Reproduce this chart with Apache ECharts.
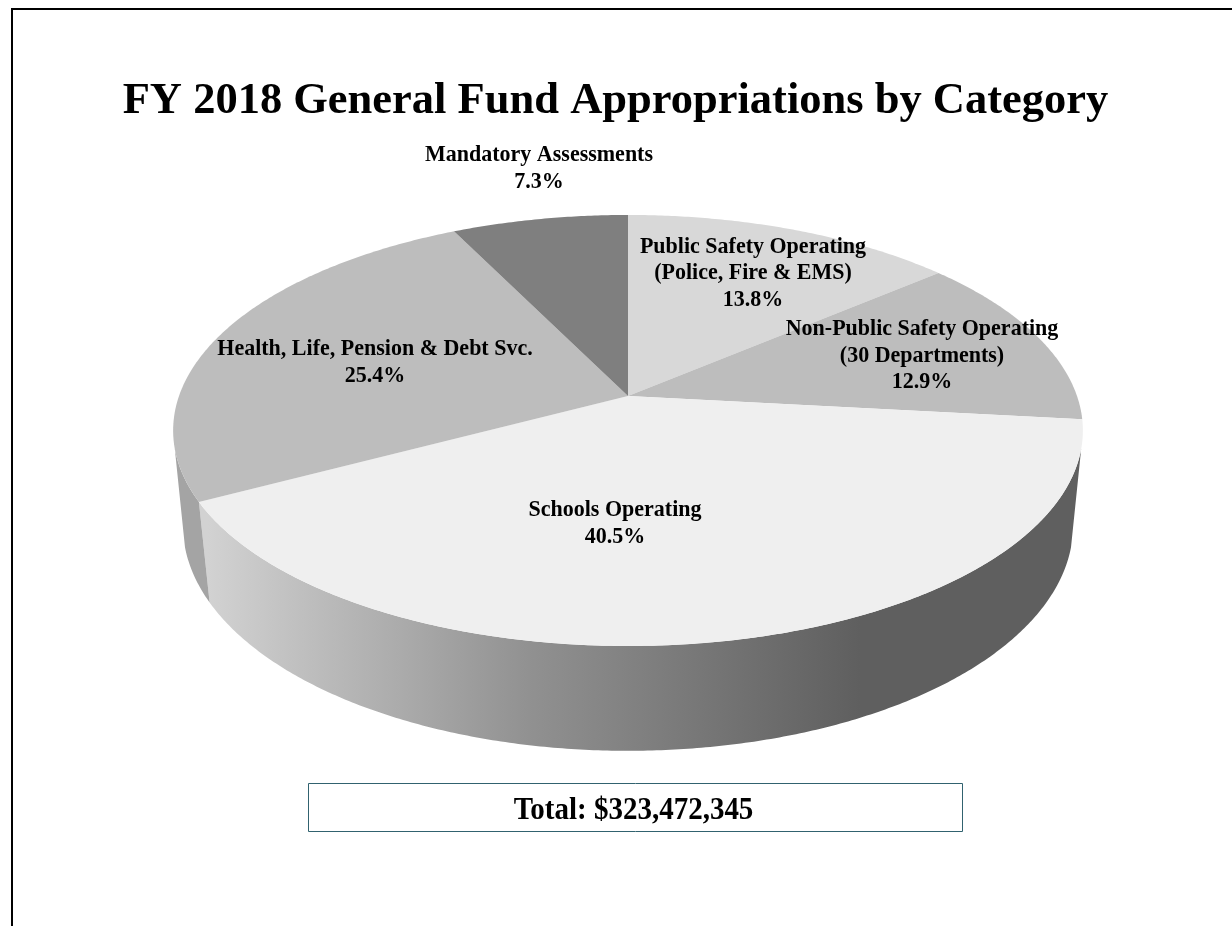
<!DOCTYPE html>
<html>
<head>
<meta charset="utf-8">
<style>html,body{margin:0;padding:0;background:#fff}#chart{width:1232px;height:926px}</style>
<script src="https://cdn.jsdelivr.net/npm/echarts@6/dist/echarts.min.js"></script>
</head>
<body>
<div id="chart"></div>
<script>
// FY 2018 appropriations, percent of the general fund
const categories = [
  'Public Safety Operating\n(Police, Fire & EMS)',
  'Non-Public Safety Operating\n(30 Departments)',
  'Schools Operating',
  'Health, Life, Pension & Debt Svc.',
  'Mandatory Assessments'
];
const shares = [13.8, 12.9, 40.5, 25.4, 7.3];
const chartTitle = 'FY 2018 General Fund Appropriations by Category';
const totalText = 'Total: $323,472,345';

// Perspective disc: a unit circle projected onto the page, one plane for the
// lid and one for the base of the cylinder.
const lidPlane = { cx: 628, cy: 396, a: 449, b: 210, k: 0.16 };
const basePlane = { cx: 628, cy: 492, a: 440, b: 220, k: 0.15 };
// Part of the rim facing the viewer, as fractions of a full turn
const frontRim = [104 / 360, 256 / 360];

function project(plane, turn) {
  const th = turn * 2 * Math.PI;
  const u = Math.sin(th), v = -Math.cos(th);
  const d = 1 - plane.k * v;
  return [plane.cx + plane.a * u / d, plane.cy + plane.b * v / d];
}
function arc(plane, t0, t1) {
  const n = Math.max(2, Math.ceil((t1 - t0) * 720));
  const pts = [];
  for (let i = 0; i <= n; i++) pts.push(project(plane, t0 + (t1 - t0) * i / n));
  return pts;
}

const G = echarts.graphic.LinearGradient;
const wallStops = new G(208, 0, 860, 0, [
  { offset: 0, color: '#d2d2d2' },
  { offset: 0.5, color: '#909090' },
  { offset: 1, color: '#5f5f5f' }
], true);
const lidFills = ['#d8d8d8', '#bdbdbd', '#efefef', '#bdbdbd', '#7f7f7f'];
const wallFills = ['#6a6a6a', '#5f5f5f', wallStops, '#a4a4a4', '#555555'];
const labelAnchors = [[753, 273], [922, 355.5], [615, 523], [375, 362], [539, 168]];

const sum = shares.reduce((s, x) => s + x, 0);
let running = 0;
const rows = shares.map((x, i) => {
  const row = { name: categories[i], value: [x, running / sum] };
  running += x;
  return row;
});

function renderSlice(params, api) {
  const i = params.dataIndex;
  const t0 = api.value(1);
  const t1 = t0 + api.value(0) / sum;
  const lidArc = arc(lidPlane, t0, t1);
  const a = labelAnchors[i];
  const children = [
    {
      type: 'polygon', z2: 10,
      shape: { points: [[lidPlane.cx, lidPlane.cy]].concat(lidArc) },
      style: { fill: lidFills[i] }
    },
    {
      type: 'text', z2: 20, x: a[0], y: a[1], scaleX: 0.917,
      style: {
        text: categories[i] + '\n' + api.value(0).toFixed(1) + '%',
        fontFamily: '"Liberation Serif"', fontWeight: 'bold', fontSize: 24,
        lineHeight: 26.7, fill: '#000', align: 'center', verticalAlign: 'middle'
      }
    }
  ];
  // Only the stretch of rim that faces the viewer gets a wall
  const w0 = Math.max(t0, frontRim[0]);
  const w1 = Math.min(t1, frontRim[1]);
  if (w1 > w0) {
    children.push({
      type: 'polygon', z2: 1,
      shape: { points: arc(lidPlane, w0, w1).concat(arc(basePlane, w0, w1).reverse()) },
      style: { fill: wallFills[i] }
    });
  }
  return { type: 'group', children };
}

const chart = echarts.init(document.getElementById('chart'), null, { renderer: 'canvas' });
chart.setOption({
  animation: false,
  backgroundColor: '#ffffff',
  title: {
    text: chartTitle, left: 610.5, top: 74, textAlign: 'center',
    textStyle: { fontFamily: '"Liberation Serif"', fontWeight: 'bold', fontSize: 44.5, color: '#000' }
  },
  series: [{ type: 'custom', coordinateSystem: 'none', renderItem: renderSlice, data: rows, silent: true }],
  graphic: [
    { type: 'polyline', shape: { points: [[12, 926], [12, 9], [1232, 9]] }, style: { stroke: '#000', lineWidth: 2, fill: null } },
    {
      type: 'rect', shape: { x: 308.5, y: 783.5, width: 654, height: 48 },
      style: { stroke: '#31626f', lineWidth: 1, fill: '#fff' }
    },
    {
      type: 'text', x: 633.5, y: 811, scaleX: 0.906,
      style: {
        text: totalText, fontFamily: '"Liberation Serif"', fontWeight: 'bold', fontSize: 32,
        fill: '#000', align: 'center', verticalAlign: 'middle'
      }
    }
  ]
});
</script>
</body>
</html>
